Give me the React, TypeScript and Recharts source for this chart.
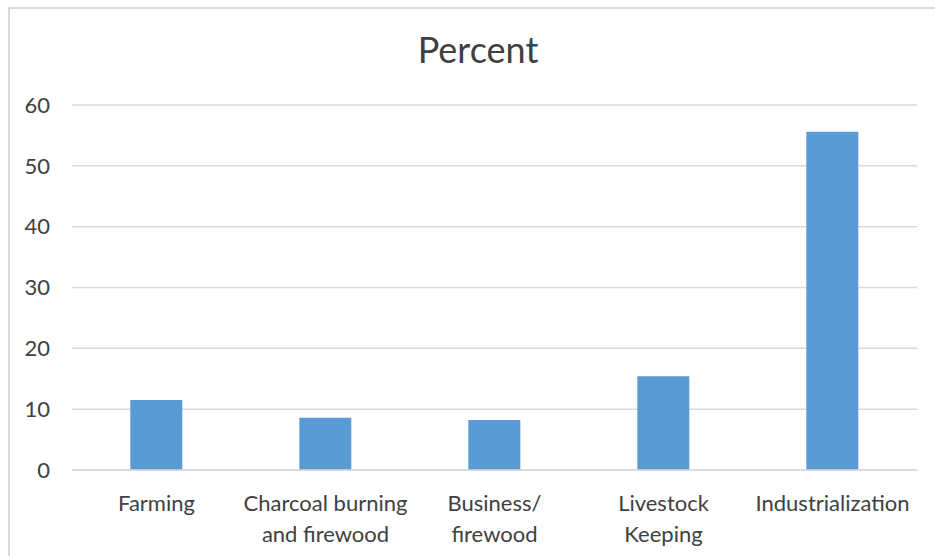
import React from "react"
import { Bar, BarChart, CartesianGrid, XAxis, YAxis } from "recharts"

const categories = [
  "Farming",
  "Charcoal burning\nand firewood",
  "Business/\nfirewood",
  "Livestock\nKeeping",
  "Industrialization",
]
const percent = [11.5, 8.6, 8.2, 15.4, 55.6]
const yTicks = [0, 10, 20, 30, 40, 50, 60]

const data = categories.map((name, i) => ({ name, Percent: percent[i] }))

const font = "Lato, sans-serif"

function CategoryTick(props: any) {
  const { x, y, payload } = props
  const lines = String(payload.value).split("\n")
  return (
    <text x={x} y={y + 33} textAnchor="middle" fill="#404040" fontSize={22} fontFamily={font}>
      {lines.map((line, i) => (
        <tspan key={i} x={x} dy={i === 0 ? 0 : 31}>
          {line}
        </tspan>
      ))}
    </text>
  )
}

export default function App() {
  return (
    <div style={{ position: "absolute", left: 0, top: 0, width: 935, height: 556, background: "#fff", overflow: "hidden" }}>
      <div
        style={{
          position: "absolute",
          left: 8,
          top: 7,
          width: 960,
          height: 600,
          border: "2px solid #d9d9d9",
        }}
      />
      <div
        style={{
          position: "absolute",
          left: 0,
          top: 28,
          width: 956,
          textAlign: "center",
          fontFamily: font,
          fontSize: 36,
          lineHeight: "43px",
          color: "#404040",
        }}
      >
        Percent
      </div>
      <BarChart
        width={935}
        height={556}
        data={data}
        margin={{ top: 105, right: 18, bottom: 0, left: 0 }}
        barCategoryGap="34.5%"
        style={{ position: "absolute", left: 0, top: 0 }}
      >
        <CartesianGrid vertical={false} stroke="#d9d9d9" strokeWidth={1.5} />
        <XAxis
          dataKey="name"
          height={86}
          axisLine={{ stroke: "#d9d9d9", strokeWidth: 1.5 }}
          tickLine={false}
          interval={0}
          tick={<CategoryTick />}
        />
        <YAxis
          width={72}
          domain={[0, 60]}
          ticks={yTicks}
          axisLine={false}
          tickLine={false}
          tick={{ fill: "#404040", fontSize: 22, fontFamily: font }}
          tickMargin={16}
        />
        <Bar dataKey="Percent" fill="#5b9bd5" isAnimationActive={false} />
      </BarChart>
    </div>
  )
}
